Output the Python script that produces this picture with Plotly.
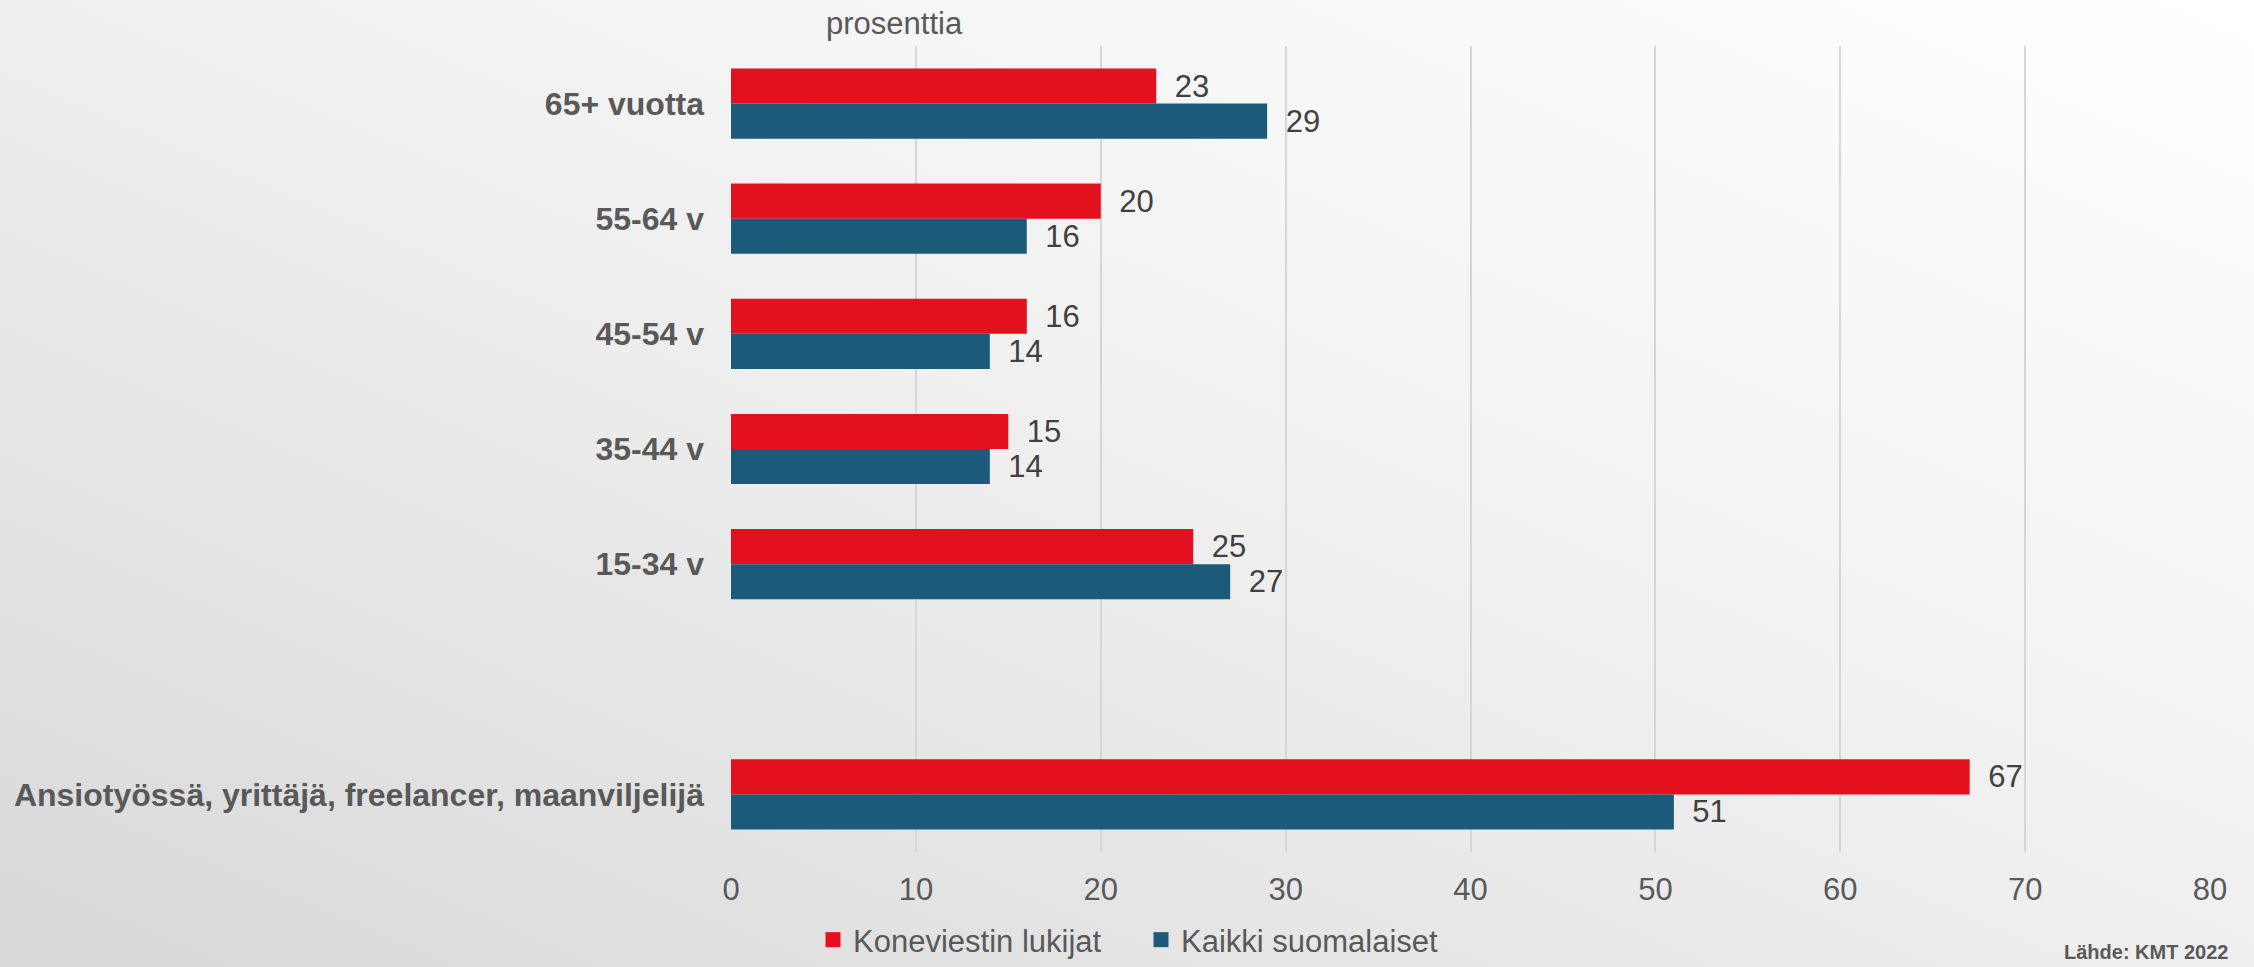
import base64
import plotly.graph_objects as go

# ---- data ----
categories = [
    "65+ vuotta",
    "55-64 v",
    "45-54 v",
    "35-44 v",
    "15-34 v",
    " ",
    "Ansiotyössä, yrittäjä, freelancer, maanviljelijä",
]
koneviestin_lukijat = [23, 20, 16, 15, 25, None, 67]
kaikki_suomalaiset = [29, 16, 14, 14, 27, None, 51]
series_names = ["Koneviestin lukijat", "Kaikki suomalaiset"]
x_tick_values = [0, 10, 20, 30, 40, 50, 60, 70, 80]
unit_label = "prosenttia"
source_label = "Lähde: KMT 2022"

# ---- layout geometry ----
W, H = 2254, 967
ML, MR, MT, MB = 731, 44, 46, 115
PW, PH = W - ML - MR, H - MT - MB

RED = "#E3101E"
BLUE = "#1B5A78"
FONT = "Liberation Sans, Arial, sans-serif"

svg = (
    f"<svg xmlns='http://www.w3.org/2000/svg' width='{W}' height='{H}' preserveAspectRatio='none'>"
    "<defs><linearGradient id='g' x1='0' y1='1' x2='1' y2='0'>"
    "<stop offset='0' stop-color='#d8d8d8'/>"
    "<stop offset='0.55' stop-color='#f1f1f1'/>"
    "<stop offset='1' stop-color='#ffffff'/>"
    "</linearGradient></defs>"
    f"<rect width='{W}' height='{H}' fill='url(#g)'/></svg>"
)
bg_uri = "data:image/svg+xml;base64," + base64.b64encode(svg.encode()).decode()

fig = go.Figure()
for name, vals, col in [
    (series_names[0], koneviestin_lukijat, RED),
    (series_names[1], kaikki_suomalaiset, BLUE),
]:
    fig.add_trace(
        go.Bar(
            name=name,
            y=categories,
            x=vals,
            orientation="h",
            marker=dict(color=col, line=dict(width=0)),
            texttemplate="\u2002%{x}",
            textposition="outside",
            constraintext="none",
            cliponaxis=False,
            textfont=dict(family=FONT, size=31, color="#404040"),
            hoverinfo="skip",
            showlegend=False,
            legendgroup=name,
        )
    )
# legend entries with larger square swatches
for name, col in [(series_names[0], RED), (series_names[1], BLUE)]:
    fig.add_trace(
        go.Scatter(
            name=name,
            x=[None],
            y=[None],
            mode="markers",
            marker=dict(symbol="square", size=15, color=col),
            legendgroup=name,
            showlegend=True,
            hoverinfo="skip",
        )
    )

fig.update_layout(
    width=W,
    height=H,
    margin=dict(l=ML, r=MR, t=MT, b=MB, pad=0, autoexpand=False),
    paper_bgcolor="#f0f0f0",
    plot_bgcolor="rgba(0,0,0,0)",
    barmode="group",
    bargap=0.39,
    bargroupgap=0,
    font=dict(family=FONT, color="#595959"),
    showlegend=True,
    legend=dict(
        orientation="h",
        x=(813 - ML) / PW,
        xanchor="left",
        y=-MB / PH,
        yanchor="bottom",
        font=dict(family=FONT, size=31, color="#595959"),
        bgcolor="rgba(0,0,0,0)",
        borderwidth=0,
        entrywidth=283,
        entrywidthmode="pixels",
    ),
    images=[
        dict(
            source=bg_uri,
            xref="paper",
            yref="paper",
            x=-ML / PW,
            y=1 + MT / PH,
            sizex=W / PW,
            sizey=H / PH,
            xanchor="left",
            yanchor="top",
            sizing="stretch",
            layer="below",
        )
    ],
    annotations=[
        dict(
            text=unit_label,
            xref="paper",
            yref="paper",
            x=(894 - ML) / PW,
            y=1 + (MT - 23) / PH,
            xanchor="center",
            yanchor="middle",
            showarrow=False,
            font=dict(family=FONT, size=31, color="#595959"),
        ),
        dict(
            text=f"<b>{source_label}</b>",
            xref="paper",
            yref="paper",
            x=(2230 - ML) / PW,
            y=-100 / PH,
            xanchor="right",
            yanchor="middle",
            showarrow=False,
            font=dict(family=FONT, size=20, color="#595959"),
        ),
    ],
)

fig.update_xaxes(
    range=[0, 80],
    tickvals=x_tick_values,
    showgrid=True,
    gridcolor="#d6d6d6",
    gridwidth=2,
    zeroline=False,
    showline=False,
    ticks="",
    ticklabelstandoff=16,
    tickfont=dict(family=FONT, size=31, color="#595959"),
    fixedrange=True,
)
fig.update_yaxes(
    type="category",
    categoryorder="array",
    categoryarray=categories,
    range=[len(categories) - 0.5, -0.5],
    showgrid=False,
    zeroline=False,
    showline=False,
    ticks="",
    ticklabelstandoff=26,
    tickfont=dict(family=FONT, size=32, color="#595959", weight="bold"),
    fixedrange=True,
)

fig.write_html(
    "out.html",
    config={"displayModeBar": False},
    post_script="document.body.style.margin='0';document.body.style.overflow='hidden';",
)
